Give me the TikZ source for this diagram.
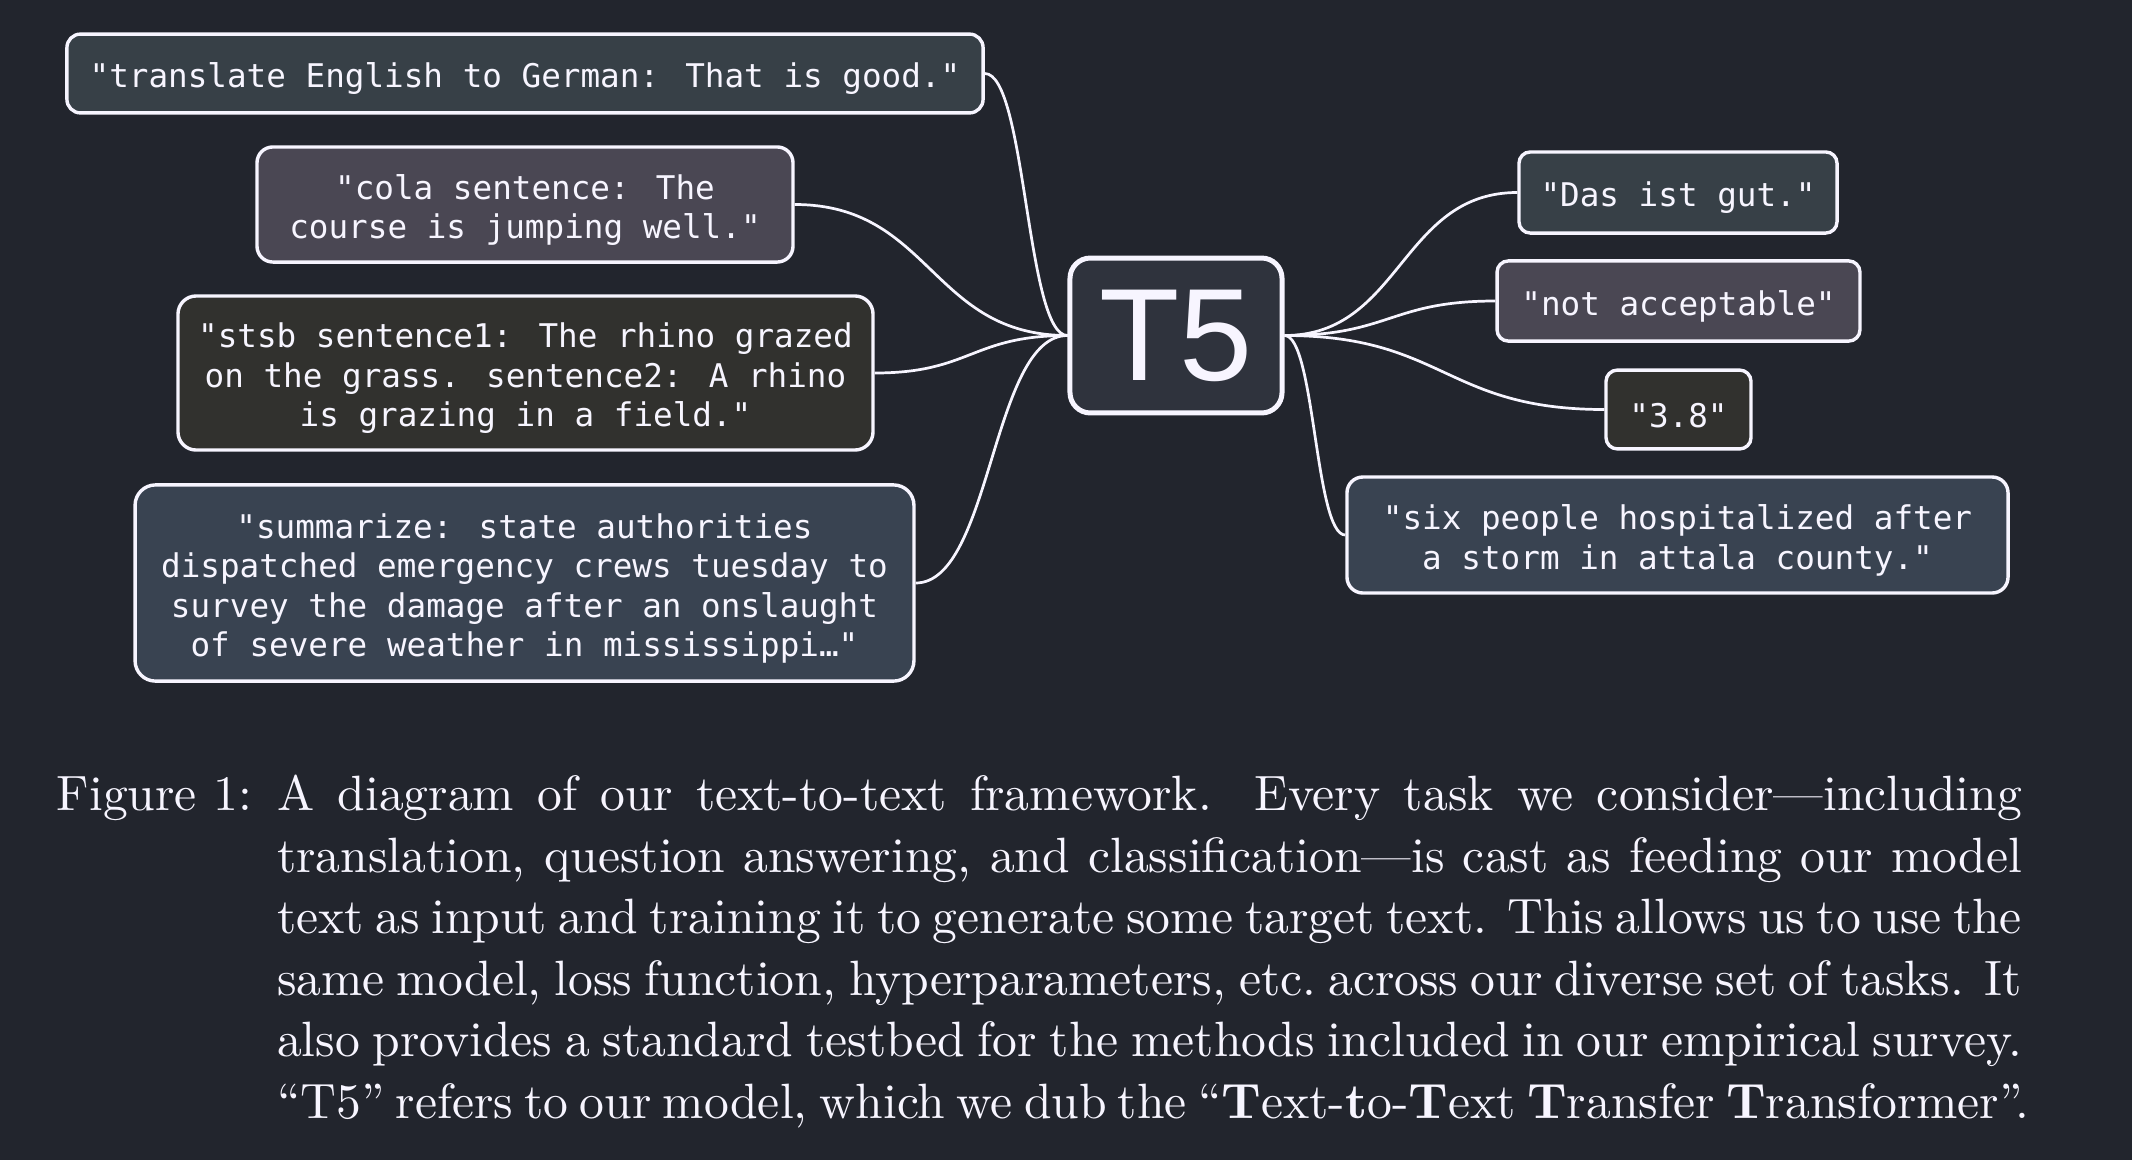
\documentclass[tikz,border=0pt]{standalone}
\usepackage{fontspec}
\usetikzlibrary{calc}
\newfontfamily\boxfont{DejaVu Sans Mono}
\newfontfamily\tfivefont{Liberation Sans}
\definecolor{bg}{HTML}{22252D}
\definecolor{fa}{HTML}{374047}
\definecolor{fb}{HTML}{4A4753}
\definecolor{fc}{HTML}{31312E}
\definecolor{fd}{HTML}{394351}
\definecolor{ft}{HTML}{2F333D}
\definecolor{ink}{HTML}{F7F5FF}
\newcommand\dnstrut{\rule{0pt}{7.9pt}}
\tikzset{
  box/.style={draw=ink, line width=0.75pt, text=ink, align=center, inner sep=0pt,
    font=\boxfont\fontsize{7.2}{8.7}\selectfont},
  conn/.style={draw=ink, line width=0.6pt},
  hconn/.style={to path={let \p1=(\tikztostart), \p2=(\tikztotarget) in
    .. controls ({(\x1+\x2)/2},\y1) and ({(\x1+\x2)/2},\y2) .. (\tikztotarget)}}
}
\begin{document}
\begin{tikzpicture}[x=0.2207pt, y=-0.2207pt]
\fill[bg] (0,0) rectangle (2132,1160);
\useasboundingbox (0,0) rectangle (2132,1160);
% left inputs
\node[box, fill=fa, rounded corners=3pt, minimum width=202.2pt, minimum height=17.4pt] (q1) at (525,73.5)
  {\dnstrut"translate English to German: That is good."};
\node[box, fill=fb, rounded corners=3.5pt, minimum width=118.3pt, minimum height=25.4pt] (q2) at (525,204.5)
  {\dnstrut"cola sentence: The\\course is jumping well."};
\node[box, fill=fc, rounded corners=4pt, minimum width=153.4pt, minimum height=34pt] (q3) at (525.5,373)
  {\dnstrut"stsb sentence1: The rhino grazed\\on the grass. sentence2: A rhino\\is grazing in a field."};
\node[box, fill=fd, rounded corners=4.5pt, minimum width=171.9pt, minimum height=43.3pt] (q4) at (524.5,583)
  {\dnstrut"summarize: state authorities\\dispatched emergency crews tuesday to\\survey the damage after an onslaught\\of severe weather in mississippi…"};
% model
\node[draw=ink, line width=1.1pt, fill=ft, rounded corners=4.5pt, text=ink, inner sep=0pt,
  minimum width=46.8pt, minimum height=34.2pt, font=\tfivefont\fontsize{29}{30}\selectfont] (t5) at (1176,335.5) {T5};
% right outputs
\node[box, fill=fa, rounded corners=2.5pt, minimum width=70.2pt, minimum height=17.9pt] (a1) at (1678,192.5)
  {\dnstrut"Das ist gut."};
\node[box, fill=fb, rounded corners=2.5pt, minimum width=80.1pt, minimum height=17.7pt] (a2) at (1678.5,301)
  {\dnstrut"not acceptable"};
\node[box, fill=fc, rounded corners=2.5pt, minimum width=32pt, minimum height=17.4pt] (a3) at (1678.5,409.5)
  {\dnstrut"3.8"};
\node[box, fill=fd, rounded corners=3.5pt, minimum width=145.9pt, minimum height=25.6pt] (a4) at (1677.5,535)
  {\dnstrut"six people hospitalized after\\a storm in attala county."};
% connectors
\draw[conn] (q1.east) to[hconn] (t5.west);
\draw[conn] (q2.east) to[hconn] (t5.west);
\draw[conn] (q3.east) to[hconn] (t5.west);
\draw[conn] (q4.east) to[hconn] (t5.west);
\draw[conn] (t5.east) to[hconn] (a1.west);
\draw[conn] (t5.east) to[hconn] (a2.west);
\draw[conn] (t5.east) to[hconn] (a3.west);
\draw[conn] (t5.east) to[hconn] (a4.west);
% caption
\node[anchor=north west, text width=433.7pt, inner sep=0pt, text=ink, align=justify,
  font=\fontsize{10.95}{13.6}\selectfont] (cap) at (56,774)
  {\hangindent=48.6pt \hangafter=1 \noindent\makebox[48.6pt][l]{Figure 1:}A diagram of our text-to-text framework.  Every task we consider—including\linebreak
  translation, question answering, and classification—is cast as feeding our model\linebreak
  text as input and training it to generate some target text.  This allows us to use the\linebreak
  same model, loss function, hyperparameters, etc.\ across our diverse set of tasks.  It\linebreak
  also provides a standard testbed for the methods included in our empirical survey.\linebreak
  \rlap{\makebox[386.8pt][s]{“T5” refers to our model, which we dub the “\textbf{T}ext-\textbf{t}o-\textbf{T}ext \textbf{T}ransfer \textbf{T}ransformer”.}}\par};
\end{tikzpicture}
\end{document}
